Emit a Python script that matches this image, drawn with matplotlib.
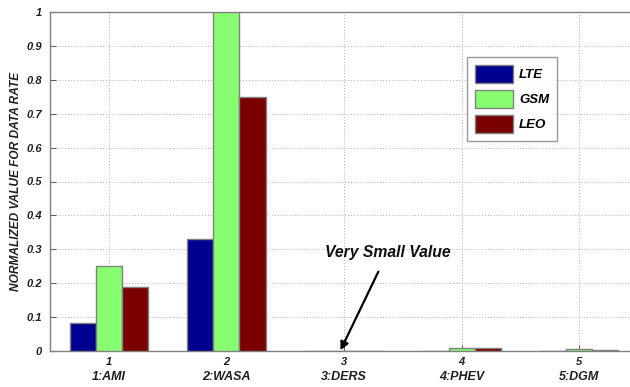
import matplotlib
matplotlib.use("Agg")
import matplotlib.pyplot as plt
import numpy as np
from matplotlib.transforms import blended_transform_factory

plt.rcParams['font.family'] = ['Liberation Sans', 'DejaVu Sans']

groups = [1, 2, 3, 4, 5]
group_names = ["1:AMI", "2:WASA", "3:DERS", "4:PHEV", "5:DGM"]
series_names = ["LTE", "GSM", "LEO"]
lte = [0.083, 0.33, 0.0005, 0.0008, 0.0005]
gsm = [0.25, 1.0, 0.0005, 0.010, 0.005]
leo = [0.1875, 0.75, 0.0005, 0.008, 0.004]
colors = ["#000090", "#88ff70", "#7a0000"]
yticks = [0, 0.1, 0.2, 0.3, 0.4, 0.5, 0.6, 0.7, 0.8, 0.9, 1]
ytick_labels = ["0", "0.1", "0.2", "0.3", "0.4", "0.5", "0.6", "0.7", "0.8", "0.9", "1"]

fig = plt.figure(figsize=(6.3, 3.87), dpi=100)
ax = fig.add_axes([50 / 630, 1 - 351 / 387, 588 / 630, 339 / 387])

x = np.array(groups, dtype=float)
w = 0.667 / 3
for i, (vals, name) in enumerate(zip([lte, gsm, leo], series_names)):
    ax.bar(x + (i - 1) * w, vals, width=w, color=colors[i], edgecolor="#808080",
           linewidth=1.0, label=name, zorder=3)

ax.set_xlim(0.5, 5.5)
ax.set_ylim(0, 1)
ax.set_xticks(groups)
ax.set_xticklabels([str(g) for g in groups])
ax.set_yticks(yticks)
ax.set_yticklabels(ytick_labels)
ax.grid(True, linestyle=(0, (1, 2)), color="#b0b0b0", linewidth=0.7, zorder=0)
ax.tick_params(direction="in", length=4, color="#606060", labelsize=8, pad=4)
ax.tick_params(axis="y", pad=6)
for lbl in ax.get_xticklabels() + ax.get_yticklabels():
    lbl.set_fontweight("bold")
    lbl.set_fontstyle("italic")
    lbl.set_color("#202020")
for s in ax.spines.values():
    s.set_color("#808080")
    s.set_linewidth(1.0)

trans = blended_transform_factory(ax.transData, fig.transFigure)
for g, name in zip(groups, group_names):
    ax.text(g, 1 - 377 / 387, name, transform=trans, ha="center", va="center",
            fontsize=9, fontweight="bold", fontstyle="italic", color="#202020")

ax.set_ylabel("NORMALIZED VALUE FOR DATA RATE", fontsize=8.6, fontweight="bold",
              fontstyle="italic", color="#202020")
ax.yaxis.set_label_coords(-(50 - 22) / 588, 0.5)

ax.annotate("Very Small Value", xy=(2.97, 0.002), xytext=(3.37, 0.29),
            fontsize=11.3, fontweight="bold", fontstyle="italic", ha="center", va="center",
            color="#101010",
            arrowprops=dict(arrowstyle="-|>", color="black", lw=1.6,
                            shrinkA=7, shrinkB=0, mutation_scale=12),
            zorder=5)

leg = ax.legend(loc="upper left",
                frameon=True, fancybox=False, edgecolor="#808080",
                handlelength=2.9, handleheight=1.75, labelspacing=0.5,
                handletextpad=0.45, borderaxespad=0,
                prop=dict(weight="bold", style="italic", size=9.5), borderpad=0.6)
leg.get_frame().set_linewidth(1.0)
leg.set_bbox_to_anchor(((467 - 50) / 588, 1 - (57 - 12) / 339), transform=ax.transAxes)

fig.savefig("out.png", dpi=100)
